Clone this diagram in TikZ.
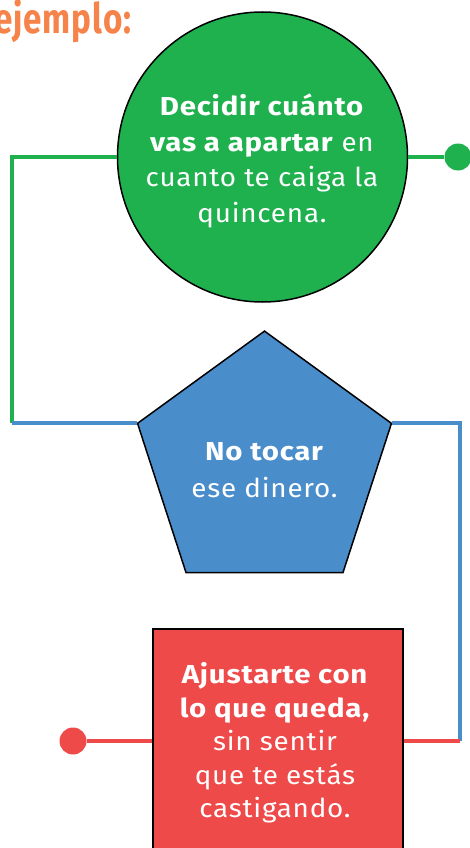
\documentclass[tikz,border=0pt]{standalone}
\usepackage{fontspec}
\setmainfont{Fira Sans}[FakeStretch=1.07,LetterSpace=3,BoldFeatures={FakeStretch=1.13}]
\usetikzlibrary{shapes.geometric}

\definecolor{verde}{HTML}{20B14F}
\definecolor{azul}{HTML}{4A8DCB}
\definecolor{rojo}{HTML}{EE4A4A}
\definecolor{naranja}{HTML}{F5834A}

\tikzset{
  figura/.style={draw=black,line width=1.5pt,text=white,align=center,inner sep=0pt},
  linea/.style={line width=4.5pt},
  punto/.style={circle,inner sep=0pt,minimum size=27pt}
}

\begin{document}
\begin{tikzpicture}[x=1pt,y=-1pt]
\useasboundingbox (0,0) rectangle (470,848);

\node[font=\bfseries\fontsize{42}{42}\selectfont,text=naranja,anchor=base west,
    xscale=0.7,transform shape,inner sep=0pt] (titulo) at (-6,34) {ejemplo:};

% figuras
\node[figura,circle,fill=verde,minimum size=290pt] (decidir) at (262.5,157) {};
\node[text=white,align=center,font=\fontsize{26}{35.5}\selectfont] (textoverde) at (262,161)
    {\textbf{Decidir cuánto}\\ \textbf{vas a apartar} en\\ cuanto te caiga la\\ quincena.};

\node[figura,regular polygon,regular polygon sides=5,fill=azul,minimum size=267pt] (notocar) at (264.5,464.6) {};
\node[text=white,align=center,font=\fontsize{26}{37}\selectfont] (textoazul) at (264.5,470)
    {\textbf{No tocar}\\ ese dinero.};

\node[figura,rectangle,fill=rojo,minimum width=250pt,minimum height=224pt] (ajustar) at (278,741) {};
\node[text=white,align=center,font=\fontsize{26}{33.5}\selectfont] (textorojo) at (275,743)
    {\textbf{Ajustarte con}\\ \textbf{lo que queda,}\\ sin sentir\\ que te estás\\ castigando.};

\node[punto,fill=verde] (puntoverde) at (458,157) {};
\node[punto,fill=rojo] (puntorojo) at (73,741) {};

\coordinate (izq) at (12,0);
\coordinate (der) at (460,0);

% conectores
\draw[linea,verde] (decidir.west) -| (izq |- notocar.corner 2);
\draw[linea,verde] (decidir.east) -- (puntoverde);
\draw[linea,azul] (izq |- notocar.corner 2) -- (notocar.corner 2);
\draw[linea,azul] (notocar.corner 5) -| (der |- ajustar.east);
\draw[linea,rojo] (der |- ajustar.east) -- (ajustar.east);
\draw[linea,rojo] (ajustar.west) -- (puntorojo);

\end{tikzpicture}
\end{document}
